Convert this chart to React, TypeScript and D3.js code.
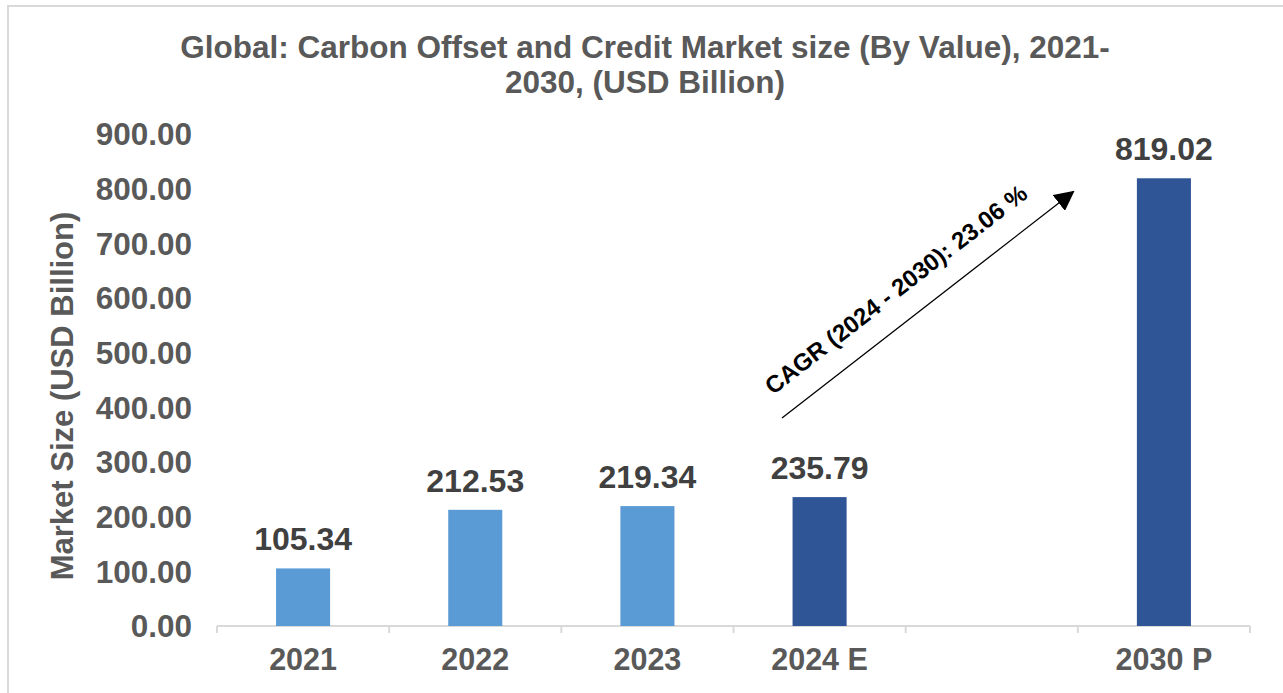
import React from 'react';
import * as d3 from 'd3';

const categories = ['2021', '2022', '2023', '2024 E', '', '2030 P'];
const values: (number | null)[] = [105.34, 212.53, 219.34, 235.79, null, 819.02];
const yTicks = [0, 100, 200, 300, 400, 500, 600, 700, 800, 900];
const titleLines = ['Global: Carbon Offset and Credit Market size (By Value), 2021-', '2030, (USD Billion)'];
const yTitle = 'Market Size (USD Billion)';
const cagrLabel = 'CAGR (2024 - 2030): 23.06 %';

const W = 1283;
const H = 693;
const font = "'Liberation Sans', Arial, sans-serif";
const grey = '#595959';

const App = () => {
    // keys so the empty slot has its own band
    const keys = categories.map((c, i) => `${i}|${c}`);
    const x = d3.scaleBand<string>().domain(keys).range([217, 1250]).padding(0);
    const y = d3.scaleLinear().domain([0, 900]).range([626, 134]);
    const barW = x.bandwidth() * 0.314;

    const isForecast = (c: string) => /[EP]$/.test(c);

    // arrow runs from 2024 E towards 2030 P
    const a0 = { x: 782, y: 418 };
    const a1 = { x: 1073, y: 192 };
    const angle = (Math.atan2(a1.y - a0.y, a1.x - a0.x) * 180) / Math.PI;

    return (
        <svg width={W} height={H} style={{ position: 'absolute', left: 0, top: 0, background: '#fff' }}>
            <defs>
                <marker id="head" viewBox="0 0 10 10" refX="9" refY="5" markerWidth="20" markerHeight="20"
                        markerUnits="userSpaceOnUse" orient="auto">
                    <path d="M0,0 L10,5 L0,10 z" fill="#000" />
                </marker>
            </defs>
            <rect x={8} y={6} width={W + 20} height={H + 20} fill="none" stroke="#d9d9d9" strokeWidth={2} />

            {titleLines.map((t, i) => (
                <text key={i} x={645} y={58 + i * 35} textAnchor="middle" fontFamily={font} fontWeight="bold"
                      fontSize={31.5} fill={grey}>{t}</text>
            ))}

            {yTicks.map(t => (
                <text key={t} x={192} y={y(t)} dy="0.36em" textAnchor="end" fontFamily={font} fontWeight="bold"
                      fontSize={31.5} fill={grey}>{t.toFixed(2)}</text>
            ))}

            <text transform={`translate(73,396) rotate(-90)`} textAnchor="middle" fontFamily={font}
                  fontWeight="bold" fontSize={31} fill={grey}>{yTitle}</text>

            {/* x axis */}
            <line x1={217} x2={1250} y1={626} y2={626} stroke="#d9d9d9" strokeWidth={2} />
            {keys.map(k => (
                <line key={k} x1={x(k)} x2={x(k)} y1={626} y2={633} stroke="#d9d9d9" strokeWidth={2} />
            ))}
            <line x1={1250} x2={1250} y1={626} y2={633} stroke="#d9d9d9" strokeWidth={2} />

            {keys.map((k, i) => {
                const c = categories[i];
                const v = values[i];
                const cx = (x(k) ?? 0) + x.bandwidth() / 2;
                return (
                    <g key={k}>
                        {v != null && (
                            <>
                                <rect x={cx - barW / 2} y={y(v)} width={barW} height={y(0) - y(v)}
                                      fill={isForecast(c) ? '#2f5597' : '#5b9bd5'} />
                                <text x={cx} y={y(v) - 18} textAnchor="middle" fontFamily={font} fontWeight="bold"
                                      fontSize={32} fill="#404040">{v.toFixed(2)}</text>
                            </>
                        )}
                        <text x={cx} y={670} textAnchor="middle" fontFamily={font} fontWeight="bold"
                              fontSize={30.5} fill={grey}>{c}</text>
                    </g>
                );
            })}

            <line x1={a0.x} y1={a0.y} x2={a1.x} y2={a1.y} stroke="#000" strokeWidth={1.3} markerEnd="url(#head)" />
            <text transform={`translate(901,296) rotate(${angle})`} textAnchor="middle" fontFamily={font}
                  fontWeight="bold" fontSize={24} fill="#000">{cagrLabel}</text>
        </svg>
    );
};

export default App;
